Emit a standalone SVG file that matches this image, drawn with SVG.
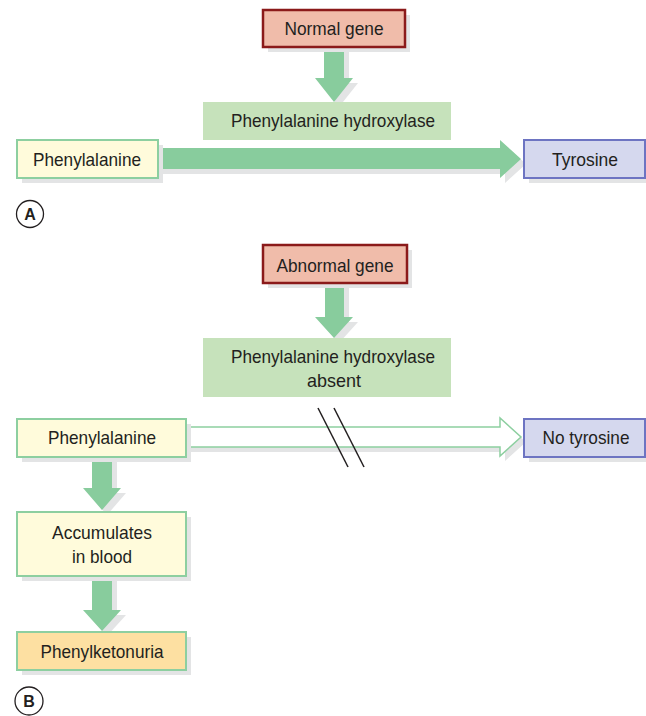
<svg xmlns="http://www.w3.org/2000/svg" width="646" height="716" viewBox="0 0 646 716">
<style>
text{font-family:"Liberation Sans",Arial,sans-serif;font-size:18.5px;fill:#231f20;text-anchor:middle}
.sh{fill:#e3e4e5}
.gene{fill:#f0bcaa;stroke:#8b1a1a;stroke-width:2.5}
.enz{fill:#c6e2bb}
.yel{fill:#fffbdb;stroke:#8dcfa0;stroke-width:2}
.blu{fill:#d5d8ee;stroke:#6d74c2;stroke-width:2}
.org{fill:#fde0a2;stroke:#8dcfa0;stroke-width:2}
.arr{fill:#88cc9d}
.hol{fill:#fff;stroke:#8dcfa0;stroke-width:1.5}
.lbl{font-weight:bold;font-size:16px}
</style>
<g id="connectors">
<g class="sh">
<polygon points="329,52 349,52 349,83 358,83 339,107 320,83 329,83"/>
<polygon points="163,153 505,153 505,145 526,164 505,183 505,174 163,174"/>
<polygon points="330,288 349,288 349,322 358,322 339,343 320,322 330,322"/>
<polygon points="191,432 505,432 505,423 526,442 505,461 505,452 191,452"/>
<polygon points="97,462 117,462 117,493 126,493 107,515 88,493 97,493"/>
<polygon points="97,581 117,581 117,615 126,615 107,636 88,615 97,615"/>
</g>
<polygon class="arr" points="324,46 344,46 344,78 353,78 334,102 315,78 324,78"/>
<polygon class="arr" points="158,148 500,148 500,140 521,159 500,178 500,169 158,169"/>
<polygon class="arr" points="325,283 344,283 344,317 353,317 334,338 315,317 325,317"/>
<polygon class="hol" points="186,427 500,427 500,418 521,437 500,456 500,447 186,447"/>
<polygon class="arr" points="92,457 112,457 112,488 121,488 102,510 83,488 92,488"/>
<polygon class="arr" points="92,576 112,576 112,610 121,610 102,631 83,610 92,610"/>
<line x1="318" y1="408" x2="348" y2="467" stroke="#231f20" stroke-width="1.5"/>
<line x1="334" y1="408" x2="364" y2="467" stroke="#231f20" stroke-width="1.5"/>
</g>
<g id="normal-gene">
<rect class="sh" x="268" y="15" width="142" height="37"/>
<rect class="gene" x="263" y="10" width="142" height="37"/>
<text x="334" y="35" textLength="99" lengthAdjust="spacingAndGlyphs">Normal gene</text>
</g>
<g id="enzyme-a">
<rect class="enz" x="203" y="102" width="248" height="38"/>
<text x="333" y="127" textLength="204" lengthAdjust="spacingAndGlyphs">Phenylalanine hydroxylase</text>
</g>
<g id="phe-a">
<rect class="sh" x="22" y="145" width="141" height="38"/>
<rect class="yel" x="17" y="140" width="141" height="38"/>
<text x="87" y="166" textLength="108" lengthAdjust="spacingAndGlyphs">Phenylalanine</text>
</g>
<g id="tyrosine">
<rect class="sh" x="529" y="145" width="121" height="38"/>
<rect class="blu" x="524" y="140" width="121" height="38"/>
<text x="585" y="166" textLength="66" lengthAdjust="spacingAndGlyphs">Tyrosine</text>
</g>
<g id="label-a">
<circle cx="30" cy="214" r="13.5" fill="#fff" stroke="#231f20" stroke-width="1.3"/>
<text class="lbl" x="30" y="220">A</text>
</g>
<g id="abnormal-gene">
<rect class="sh" x="268" y="250" width="144" height="38"/>
<rect class="gene" x="263" y="245" width="144" height="38"/>
<text x="335" y="272" textLength="117" lengthAdjust="spacingAndGlyphs">Abnormal gene</text>
</g>
<g id="enzyme-b">
<rect class="enz" x="203" y="338" width="248" height="59"/>
<text x="333" y="363" textLength="204" lengthAdjust="spacingAndGlyphs">Phenylalanine hydroxylase</text>
<text x="334" y="387" textLength="54" lengthAdjust="spacingAndGlyphs">absent</text>
</g>
<g id="phe-b">
<rect class="sh" x="22" y="424" width="169" height="38"/>
<rect class="yel" x="17" y="419" width="169" height="38"/>
<text x="102" y="444" textLength="108" lengthAdjust="spacingAndGlyphs">Phenylalanine</text>
</g>
<g id="no-tyrosine">
<rect class="sh" x="529" y="424" width="121" height="38"/>
<rect class="blu" x="524" y="419" width="121" height="38"/>
<text x="586" y="444" textLength="87" lengthAdjust="spacingAndGlyphs">No tyrosine</text>
</g>
<g id="accumulates">
<rect class="sh" x="22" y="517" width="169" height="64"/>
<rect class="yel" x="17" y="512" width="169" height="64"/>
<text x="102" y="539" textLength="100" lengthAdjust="spacingAndGlyphs">Accumulates</text>
<text x="102" y="563" textLength="60" lengthAdjust="spacingAndGlyphs">in blood</text>
</g>
<g id="pku">
<rect class="sh" x="22" y="637" width="169" height="38"/>
<rect class="org" x="17" y="632" width="169" height="38"/>
<text x="102" y="658" textLength="123" lengthAdjust="spacingAndGlyphs">Phenylketonuria</text>
</g>
<g id="label-b">
<circle cx="29" cy="701" r="14" fill="#fff" stroke="#231f20" stroke-width="1.3"/>
<text class="lbl" x="29" y="707">B</text>
</g>
</svg>
